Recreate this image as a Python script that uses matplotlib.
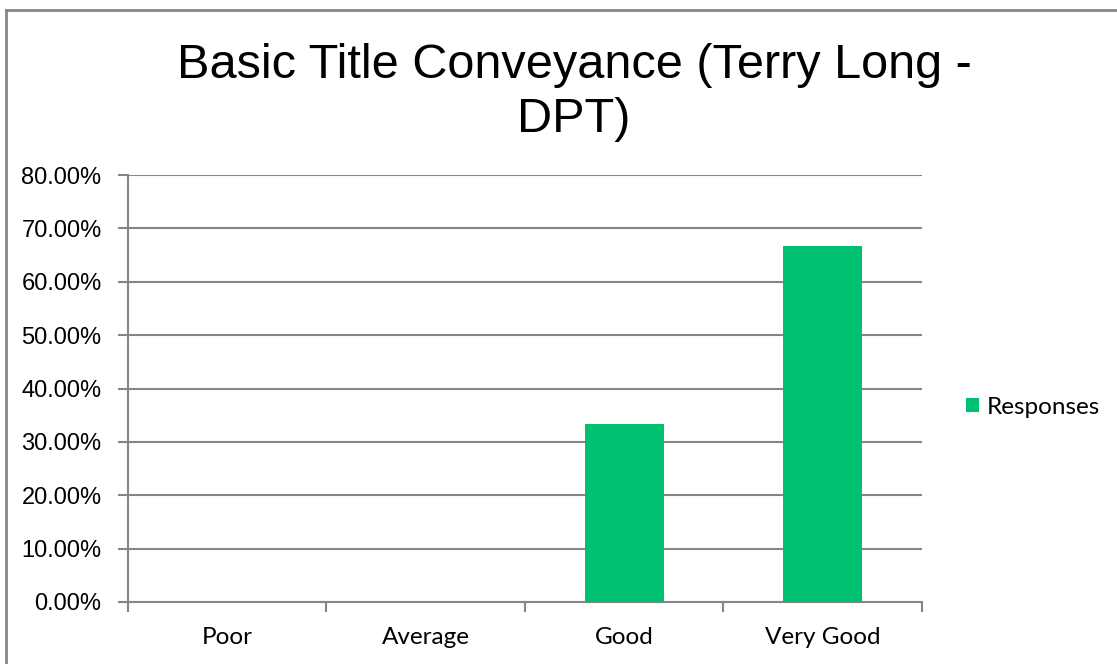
import matplotlib.pyplot as plt
from matplotlib.lines import Line2D
from matplotlib.patches import Patch
import numpy as np

# data
categories = ['Poor', 'Average', 'Good', 'Very Good']
responses = [0.0, 0.0, 33.33, 66.67]
yticks = [0, 10, 20, 30, 40, 50, 60, 70, 80]

green = '#00C071'
grey = '#868686'

fig = plt.figure(figsize=(11.17, 6.64), dpi=100)
ax = fig.add_axes([0.1146, 0.0934, 0.7108, 0.643])

x = np.arange(len(categories))
ax.bar(x, responses, width=0.4, color=green, zorder=3)

ax.set_xlim(-0.5, 3.5)
ax.set_ylim(0, 80)

# y axis
ax.set_yticks(yticks)
ax.set_yticklabels(['%.2f%%' % v for v in yticks],
                   fontfamily='Liberation Sans', fontsize=17)
ax.yaxis.grid(True, color=grey, linewidth=1.5, zorder=0)
ax.tick_params(axis='y', length=7, width=1.5, color=grey, pad=12)

# x axis: labels in the middle, tick marks on category boundaries
ax.set_xticks(x)
ax.set_xticklabels(categories, fontfamily='Lato', fontsize=17.5)
ax.tick_params(axis='x', which='major', length=0, pad=18)
ax.set_xticks(np.arange(-0.5, 4, 1), minor=True)
ax.tick_params(axis='x', which='minor', length=7, width=1.5, color=grey)

for s in ['top', 'right']:
    ax.spines[s].set_visible(False)
for s in ['left', 'bottom']:
    ax.spines[s].set_color(grey)
    ax.spines[s].set_linewidth(1.5)

# title
fig.text(0.514, 0.861, 'Basic Title Conveyance (Terry Long -\nDPT)',
         ha='center', va='center', multialignment='center',
         fontfamily='Liberation Sans', fontsize=35, linespacing=1.25)

# legend
handle = Patch(facecolor=green, edgecolor='none')
fig.legend([handle], ['Responses'], loc='center left',
           bbox_to_anchor=(0.845, 0.387), frameon=False,
           prop={'family': 'Lato', 'size': 17.5},
           handlelength=0.55, handleheight=0.55, handletextpad=0.3)

# chart border (top and left visible)
fig.add_artist(Line2D([0.0055, 1.0], [0.985, 0.985], transform=fig.transFigure,
                      color=grey, linewidth=2))
fig.add_artist(Line2D([0.0055, 0.0055], [0.0, 0.985], transform=fig.transFigure,
                      color=grey, linewidth=2))

fig.savefig('out.png', dpi=100, facecolor='white')
